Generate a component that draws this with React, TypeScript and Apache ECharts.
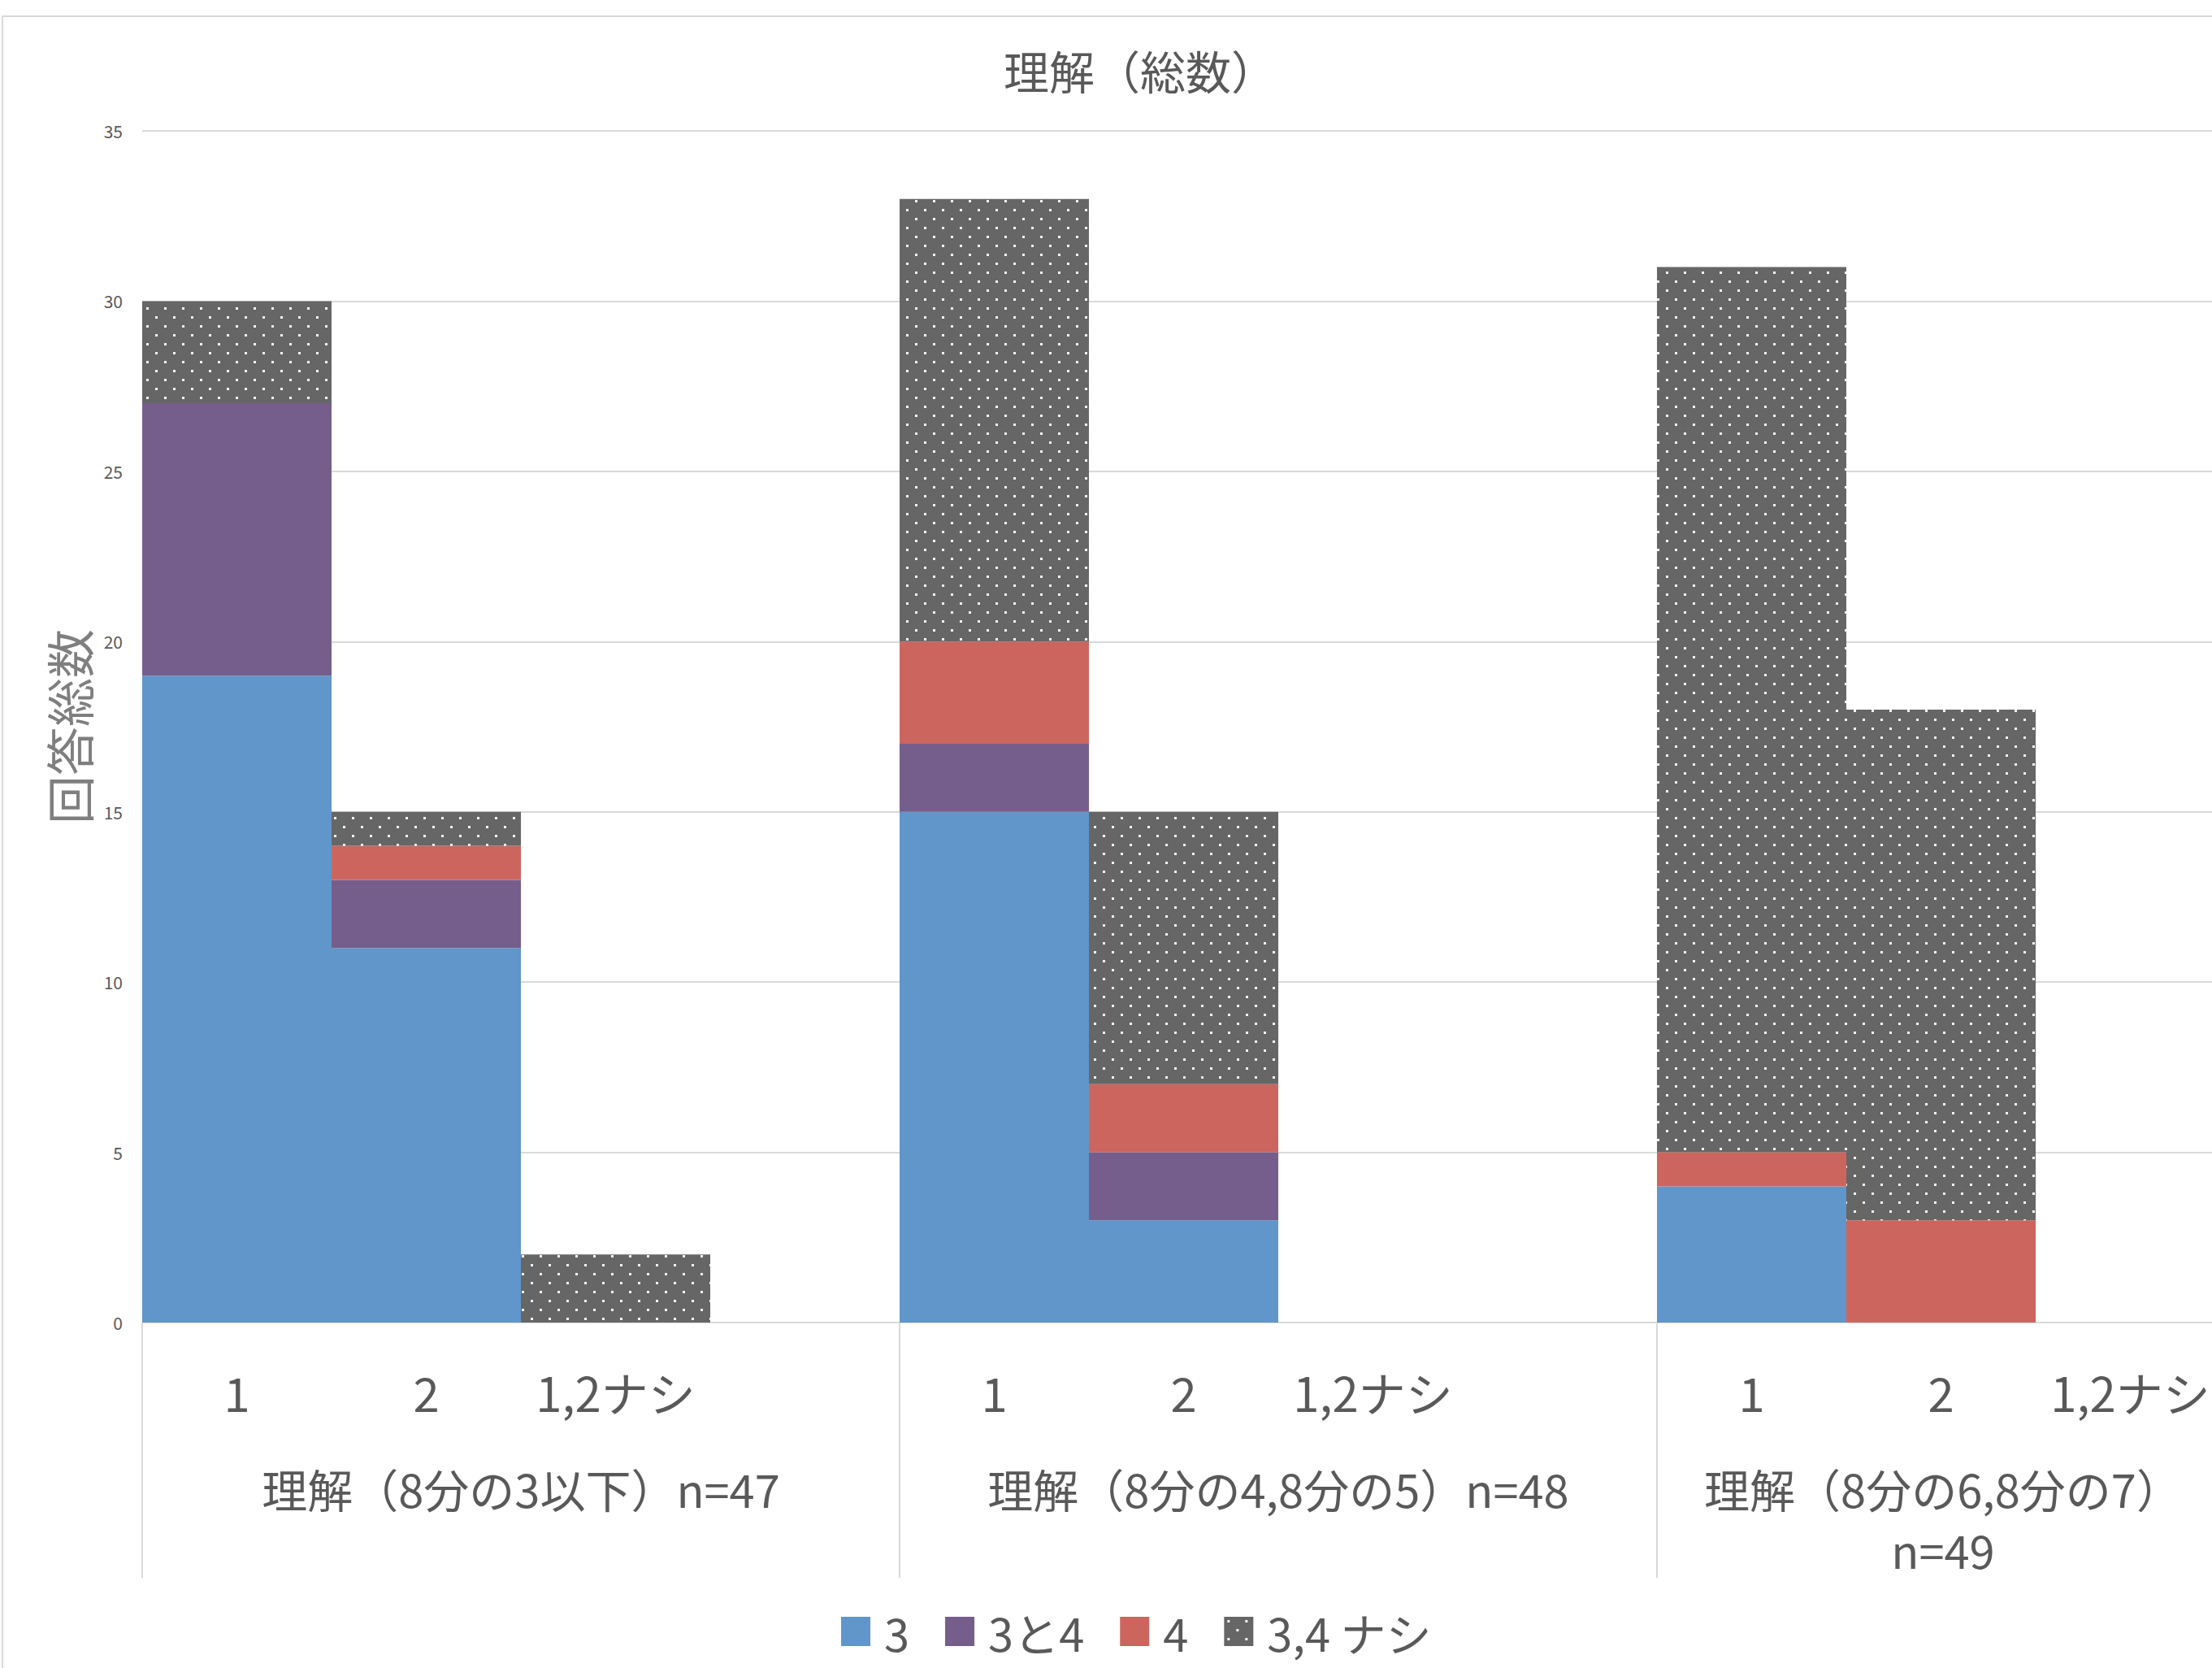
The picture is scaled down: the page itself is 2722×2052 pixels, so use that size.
import React, { useEffect, useRef } from "react";
import * as echarts from "echarts";

const categories = ["1", "2", "1,2ナシ", "", "1", "2", "1,2ナシ", "", "1", "2", "1,2ナシ", ""];
const groups = ["理解（8分の3以下）n=47", "理解（8分の4,8分の5）n=48", "理解（8分の6,8分の7）\nn=49"];
const seriesNames = ["3", "3と4", "4", "3,4 ナシ"];
const values3 = [19, 11, 0, 0, 15, 3, 0, 0, 4, 0, 0, 0];
const values34 = [8, 2, 0, 0, 2, 2, 0, 0, 0, 0, 0, 0];
const values4 = [0, 1, 0, 0, 3, 2, 0, 0, 1, 3, 0, 0];
const valuesNone = [3, 1, 2, 0, 13, 8, 0, 0, 26, 15, 0, 0];
const yTicks = { min: 0, max: 35, interval: 5 };

const FONT = '"Noto Sans CJK JP", "Noto Sans", sans-serif';
const TEXT = "#595959";

export default function App() {
  const ref = useRef<HTMLDivElement>(null);
  useEffect(() => {
    if (!ref.current) return;
    const chart = echarts.init(ref.current, undefined, { renderer: "svg" });

    const cv = document.createElement("canvas");
    cv.width = 22;
    cv.height = 22;
    const ctx = cv.getContext("2d")!;
    ctx.fillStyle = "#666666";
    ctx.fillRect(0, 0, 22, 22);
    ctx.fillStyle = "#f4f4f4";
    ctx.fillRect(4, 4, 3, 3);
    ctx.fillRect(15, 15, 3, 3);
    const dots: any = { image: cv.toDataURL(), repeat: "repeat", imageWidth: 22, imageHeight: 22 };

    const toData = (arr: number[]) => arr.map((v) => (v === 0 ? null : v));
    const colors = ["#6096C9", "#755E8C", "#CD655F", dots];
    const all = [values3, values34, values4, valuesNone];

    chart.setOption({
      animation: false,
      backgroundColor: "#ffffff",
      textStyle: { fontFamily: FONT },
      title: {
        text: "理解（総数）",
        left: 1230,
        top: 52,
        textStyle: { fontFamily: FONT, fontSize: 56, fontWeight: "normal", color: TEXT },
      },
      graphic: [
        {
          type: "rect",
          shape: { x: 3, y: 20, width: 3000, height: 2200 },
          style: { fill: "none", stroke: "#d9d9d9", lineWidth: 2 },
          silent: true,
        },
      ],
      legend: {
        data: seriesNames,
        left: 1030,
        top: 1974,
        icon: "rect",
        itemWidth: 36,
        itemHeight: 36,
        itemGap: 44,
        textStyle: { fontFamily: FONT, fontSize: 56, lineHeight: 56, color: TEXT, padding: [0, 0, 0, 12] },
      },
      grid: { left: 175, top: 161, right: 4, height: 1466 },
      xAxis: [
        {
          type: "category",
          data: categories,
          axisLine: { show: false },
          axisTick: { show: false },
          axisLabel: {
            interval: 0,
            margin: 54,
            fontFamily: FONT,
            fontSize: 58,
            lineHeight: 62,
            color: TEXT,
          },
        },
        {
          type: "category",
          data: groups.map((g, i) =>
            i === 2 ? { value: g, textStyle: { padding: [0, 228, 0, 0] } } : g
          ),
          position: "bottom",
          axisLine: { show: false },
          axisTick: { show: true, length: 314, lineStyle: { color: "#d9d9d9", width: 2 } },
          axisLabel: {
            interval: 0,
            margin: 166,
            fontFamily: FONT,
            fontSize: 56,
            lineHeight: 75,
            color: TEXT,
          },
        },
      ],
      yAxis: {
        type: "value",
        min: yTicks.min,
        max: yTicks.max,
        interval: yTicks.interval,
        name: "回答総数",
        nameLocation: "middle",
        nameRotate: 90,
        nameGap: 62,
        nameTextStyle: { fontFamily: FONT, fontSize: 60, color: "#7f7f7f" },
        axisLine: { show: false },
        axisTick: { show: false },
        axisLabel: { margin: 24, fontFamily: FONT, fontSize: 21, color: TEXT },
        splitLine: { lineStyle: { color: "#d9d9d9", width: 2 } },
      },
      series: seriesNames.map((name, i) => ({
        name,
        type: "bar",
        stack: "total",
        xAxisIndex: 0,
        barCategoryGap: "0%",
        data: toData(all[i]),
        itemStyle: { color: colors[i] },
      })),
    });
    return () => chart.dispose();
  }, []);
  return (
    <div style={{ position: "fixed", left: 0, top: 0, width: 2722, height: 2052, overflow: "hidden", background: "#fff" }}>
      <div ref={ref} style={{ width: 2975, height: 2052 }} />
    </div>
  );
}
